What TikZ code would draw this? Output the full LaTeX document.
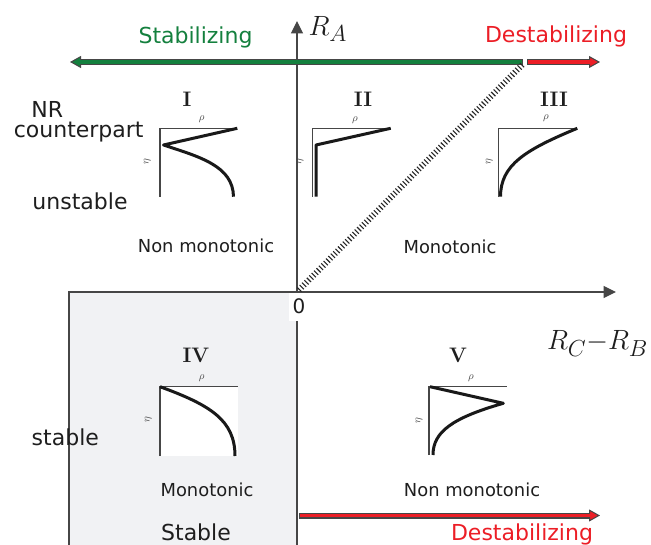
\documentclass[tikz,border=0pt]{standalone}
\usepackage{fontspec}
\newfontfamily\dejavu{DejaVu Sans}
\usetikzlibrary{arrows.meta}
\definecolor{stabgreen}{RGB}{20,128,62}
\definecolor{destred}{RGB}{236,30,38}
\definecolor{axgray}{RGB}{70,70,70}
\definecolor{boxfill}{RGB}{241,242,244}
\definecolor{txt}{RGB}{30,30,30}
\begin{document}
\begin{tikzpicture}[x=1pt,y=-1pt,
  lbl/.style={font=\dejavu\fontsize{22}{26}\selectfont, text=txt, inner sep=0pt, anchor=base},
  mono/.style={font=\dejavu\fontsize{17.9}{21}\selectfont, text=txt, inner sep=0pt, anchor=base},
  roman/.style={font=\bfseries\fontsize{21}{25}\selectfont, text=txt, inner sep=0pt, anchor=base},
  axislabel/.style={font=\fontsize{24.88}{30}\selectfont, text=txt, inner sep=0pt, anchor=base west, scale=1.12, transform shape},
  small/.style={font=\fontsize{10.5}{12}\selectfont, text=axgray, inner sep=0pt},
  axisline/.style={draw=axgray, line width=1.2pt, -{Triangle[length=12.5pt,width=12pt]}},
  inset/.style={draw=axgray, line width=1.1pt},
  profile/.style={draw=black!90, line width=3pt, line join=round},
  outer/.style={draw=axgray, line width=6pt},
]
\useasboundingbox (0,0) rectangle (651,545);
\fill[white] (0,0) rectangle (651,545);

% grey stable region
\coordinate (bl) at (69,548);
\coordinate (tl) at (69,292);
\coordinate (tr) at (297,292);
\coordinate (br) at (297,548);
\fill[boxfill] (bl) rectangle (tr);
\draw[axgray, line width=1.2pt] (bl) -- (tl) -- (tr) -- (br);

% axes
\coordinate (o) at (297,292);
\coordinate (ytop) at (297,21);
\coordinate (ybot) at (297,548);
\coordinate (xend) at (616,292);
\draw[axisline] (ybot) -- (ytop);
\draw[axisline] (tl) -- (xend);

% origin label
\node[fill=white, inner sep=0pt, minimum width=18pt, minimum height=28pt, anchor=north west] (zbox) at (289,293) {};
\node[font=\dejavu\fontsize{20}{24}\selectfont, text=txt, inner sep=0pt, anchor=base] (zero) at (299,313.5) {0};

% axis labels
\node[axislabel] (ra) at (308.5,35.5) {$R_A$};
\node[axislabel] (rcb) at (547,350) {$R_C{-}R_B$};

% top arrows
\coordinate (gs) at (523,62);
\coordinate (ge) at (70,62);
\draw[outer, -{Triangle[length=11pt,width=12pt,fill=stabgreen,line width=1pt]}] (gs) -- (ge);
\draw[stabgreen, line width=3.4pt, shorten >=9pt, shorten <=1.3pt] (gs) -- (ge);
\coordinate (rs) at (527,62);
\coordinate (re) at (600,62);
\draw[outer, -{Triangle[length=11pt,width=12pt,fill=destred,line width=1pt]}] (rs) -- (re);
\draw[destred, line width=3.4pt, shorten >=9pt, shorten <=1.3pt] (rs) -- (re);

% bottom arrow
\coordinate (bs) at (299,515.5);
\coordinate (be) at (600,515.5);
\draw[outer, -{Triangle[length=11pt,width=12pt,fill=destred,line width=1pt]}] (bs) -- (be);
\draw[destred, line width=3.4pt, shorten >=9pt, shorten <=1.3pt] (bs) -- (be);

% hatched diagonal
\coordinate (hs) at (299,290);
\coordinate (he) at (523,64);
\draw[black!85, line width=6pt, dash pattern=on 1.1pt off 2.3pt] (hs) -- (he);

% texts
\node[lbl, text=stabgreen] (stab) at (195.5,43.5) {Stabilizing};
\node[lbl, text=destred] (dest1) at (556,43) {Destabilizing};
\node[lbl, text=destred] (dest2) at (522,540) {Destabilizing};
\node[lbl] (nr) at (47.3,117.5) {NR};
\node[lbl] (cp) at (78.7,138) {counterpart};
\node[lbl] (unst) at (80,209.5) {unstable};
\node[lbl] (st) at (65.3,445.5) {stable};
\node[lbl] (St) at (196,540.5) {Stable};
\node[mono] (nm1) at (206,253) {Non monotonic};
\node[mono] (m1) at (450,254) {Monotonic};
\node[mono] (m2) at (207,496.5) {Monotonic};
\node[mono] (nm2) at (472,496.5) {Non monotonic};

% roman numerals
\node[roman] (r1) at (187,106.7) {I};
\node[roman] (r2) at (363,106.7) {II};
\node[roman] (r3) at (554,106.7) {III};
\node[roman] (r4) at (196,362.3) {IV};
\node[roman] (r5) at (458,362.3) {V};

% inset I
\draw[inset] (160,196.7) -- (160,128.3) -- (237.3,128.3);
\draw[profile] (237.3,128.3) -- (163.5,145) .. controls (200,157) and (233,166) .. (233.5,196.7);
\node[small] (rho1) at (201.7,119.3) {$\rho$};
\node[small, rotate=90] (eta1) at (147.3,161.7) {$\eta$};

% inset II
\draw[inset] (312.7,196.7) -- (312.7,128.3) -- (390.7,128.3);
\draw[profile] (390.7,128.3) -- (316,145) -- (316,196.7);
\node[small] (rho2) at (355,120) {$\rho$};
\node[small, rotate=90] (eta2) at (300,161.7) {$\eta$};

% inset III
\draw[inset] (498.3,196.7) -- (498.3,128.3) -- (577.3,128.3);
\draw[profile] (577.3,128.3) .. controls (525,150) and (500.5,165) .. (500.5,196.7);
\node[small] (rho3) at (546,118.3) {$\rho$};
\node[small, rotate=90] (eta3) at (489.3,161.7) {$\eta$};

% inset IV
\fill[white] (160,386.7) rectangle (238.3,456);
\draw[inset] (160,456) -- (160,386.7) -- (238.3,386.7);
\draw[profile] (160,386.7) .. controls (210,405) and (235,420) .. (235,456);
\node[small] (rho4) at (201.7,378.3) {$\rho$};
\node[small, rotate=90] (eta4) at (148.3,420) {$\eta$};

% inset V
\draw[inset] (429,455) -- (429,386.7) -- (507.3,386.7);
\draw[profile] (430,386.7) -- (503.3,403.3) .. controls (452,418) and (433,432) .. (433,455);
\node[small] (rho5) at (471,378.3) {$\rho$};
\node[small, rotate=90] (eta5) at (419,421) {$\eta$};
\end{tikzpicture}
\end{document}
